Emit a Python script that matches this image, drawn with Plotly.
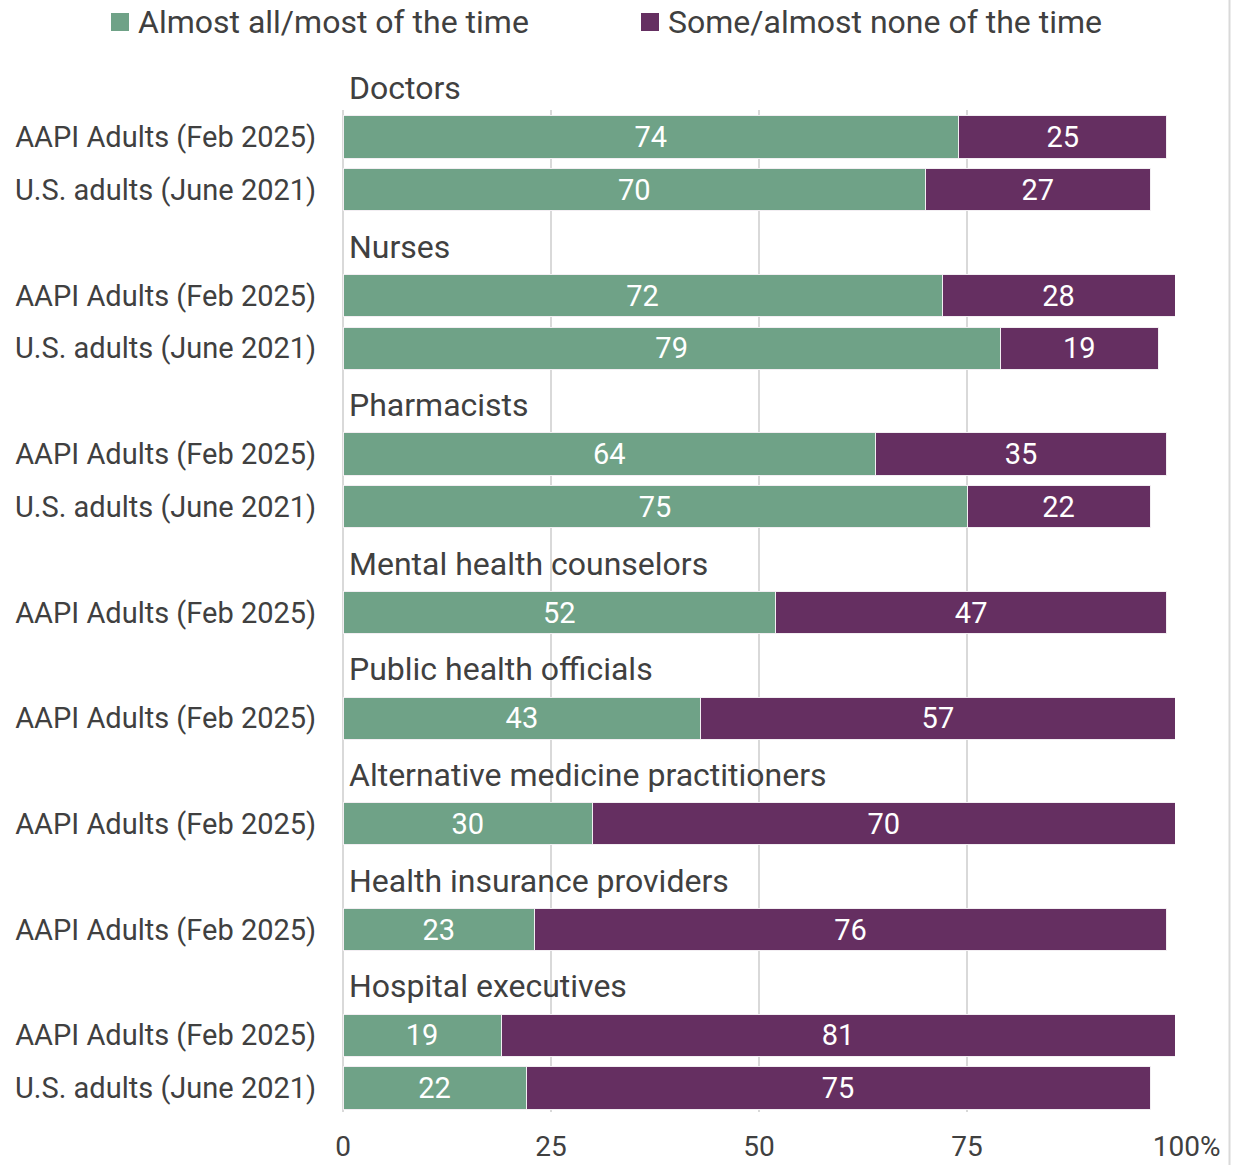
import plotly.graph_objects as go

# Survey groups (header rows) and their respondent rows
groups = [
    "Doctors",
    "Nurses",
    "Pharmacists",
    "Mental health counselors",
    "Public health officials",
    "Alternative medicine practitioners",
    "Health insurance providers",
    "Hospital executives",
]
row_group = [
    "Doctors", "Doctors",
    "Nurses", "Nurses",
    "Pharmacists", "Pharmacists",
    "Mental health counselors",
    "Public health officials",
    "Alternative medicine practitioners",
    "Health insurance providers",
    "Hospital executives", "Hospital executives",
]
row_labels = [
    "AAPI Adults (Feb 2025)", "U.S. adults (June 2021)",
    "AAPI Adults (Feb 2025)", "U.S. adults (June 2021)",
    "AAPI Adults (Feb 2025)", "U.S. adults (June 2021)",
    "AAPI Adults (Feb 2025)",
    "AAPI Adults (Feb 2025)",
    "AAPI Adults (Feb 2025)",
    "AAPI Adults (Feb 2025)",
    "AAPI Adults (Feb 2025)", "U.S. adults (June 2021)",
]
most_time = [74, 70, 72, 79, 64, 75, 52, 43, 30, 23, 19, 22]
some_time = [25, 27, 28, 19, 35, 22, 47, 57, 70, 76, 81, 75]

series_names = ["Almost all/most of the time", "Some/almost none of the time"]
x_ticks = [0, 25, 50, 75, 100]
# figure/punctuation spaces keep "100" centred on its tick with "%" trailing
x_tick_labels = ["0", "25", "50", "75", "\u2007\u2008100%"]

GREEN = "#6fa287"
PURPLE = "#652f61"
TEXT = "#404040"
GRID = "#d9d9d9"
FONT = "Roboto"

W, H = 1235, 1165
M = dict(l=343, r=60, t=110, b=53)
PLOT_W = W - M["l"] - M["r"]
PLOT_H = H - M["t"] - M["b"]


def px_x(px):
    """Page pixel column -> paper x."""
    return (px - M["l"]) / PLOT_W


def px_y(py):
    """Page pixel row (from top) -> paper y."""
    return (H - M["b"] - py) / PLOT_H


# Each group takes one header slot followed by its respondent rows
header_pos = {}
row_pos = []
slot = 0
for g in groups:
    header_pos[g] = slot
    slot += 1
    for _ in range(row_group.count(g)):
        row_pos.append(slot)
        slot += 1

Y_RANGE = [19.454, 0.489]  # reversed: first row at the top


def y_to_paper(v):
    return (Y_RANGE[0] - v) / (Y_RANGE[0] - Y_RANGE[1])


fig = go.Figure()
colors = [GREEN, PURPLE]
for name, vals, color in zip(series_names, [most_time, some_time], colors):
    fig.add_trace(go.Bar(
        name=name,
        x=vals,
        y=row_pos,
        orientation="h",
        width=0.8,
        marker=dict(color=color, line=dict(color="#f2eef2", width=1)),
        text=[str(v) for v in vals],
        textposition="inside",
        insidetextanchor="middle",
        textangle=0,
        textfont=dict(family=FONT, size=29, color="white"),
        hoverinfo="skip",
        showlegend=False,
    ))

# Group headers above each block of bars
for g in groups:
    fig.add_annotation(
        x=0, y=y_to_paper(header_pos[g]), xref="x", yref="paper",
        text=g, showarrow=False, xanchor="left", yanchor="middle",
        xshift=4, yshift=-4,
        font=dict(family=FONT, size=32, color=TEXT),
    )

# Key across the top: square swatch + series name
legend_x = [111, 641]
for name, color, sx in zip(series_names, colors, legend_x):
    fig.add_shape(
        type="rect", xref="paper", yref="paper",
        x0=px_x(sx), x1=px_x(sx + 18), y0=px_y(31), y1=px_y(13),
        fillcolor=color, line=dict(width=0),
    )
    fig.add_annotation(
        x=px_x(sx + 25), y=px_y(22), xref="paper", yref="paper",
        text=name, showarrow=False, xanchor="left", yanchor="middle",
        font=dict(family=FONT, size=32, color=TEXT),
    )

# thin frame line on the right edge
fig.add_shape(
    type="line", xref="paper", yref="paper",
    x0=px_x(1229.5), x1=px_x(1229.5), y0=px_y(H + 5), y1=px_y(-5),
    line=dict(color=GRID, width=2),
)

fig.update_layout(
    barmode="stack",
    width=W, height=H,
    margin=dict(**M, autoexpand=False),
    paper_bgcolor="white", plot_bgcolor="white",
    font=dict(family=FONT, size=29, color=TEXT),
    showlegend=False,
    xaxis=dict(
        range=[0, 100],
        tickvals=x_ticks, ticktext=x_tick_labels,
        showgrid=True, gridcolor=GRID, gridwidth=2,
        zeroline=True, zerolinecolor=GRID, zerolinewidth=2,
        ticks="outside", ticklen=9, tickcolor="rgba(0,0,0,0)",
        tickfont=dict(family=FONT, size=28, color=TEXT),
        automargin=False,
        fixedrange=True,
    ),
    yaxis=dict(
        range=Y_RANGE,
        tickvals=row_pos, ticktext=row_labels,
        showgrid=False, zeroline=False,
        ticks="outside", ticklen=20, tickcolor="rgba(0,0,0,0)",
        tickfont=dict(family=FONT, size=29, color=TEXT),
        automargin=False,
        fixedrange=True,
    ),
)

fig.write_html("out.html")
